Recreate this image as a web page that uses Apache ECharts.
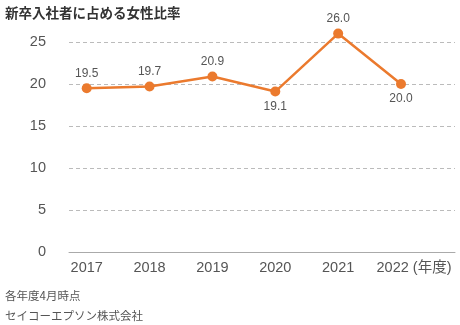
<!DOCTYPE html>
<html>
<head>
<meta charset="utf-8">
<script src="https://cdn.jsdelivr.net/npm/echarts@6/dist/echarts.min.js"></script>
<style>
  html, body { margin: 0; padding: 0; background: #fff; }
  #chart { width: 460px; height: 325px; }
</style>
</head>
<body>
<div id="chart"></div>
<script>
// 新卒入社者に占める女性比率（%）
const years = ['2017', '2018', '2019', '2020', '2021', '2022'];
const femaleRatio = [19.5, 19.7, 20.9, 19.1, 26.0, 20.0];
const labelBelow = [false, false, false, true, false, true];
const yTicks = [0, 5, 10, 15, 20, 25];

const titleText = '新卒入社者に占める女性比率';
const noteLines = ['各年度4月時点', 'セイコーエプソン株式会社'];
const unitText = '(年度)';

const NUM_FONT = '"Liberation Sans", "Noto Sans CJK JP", sans-serif';
const JP_FONT = '"Noto Sans CJK JP", "Liberation Sans", sans-serif';
const ORANGE = '#EB7A2E';

const chart = echarts.init(document.getElementById('chart'), null, { renderer: 'canvas' });

const yMin = yTicks[0];
const yMax = yTicks[yTicks.length - 1];
const yStep = yTicks[1] - yTicks[0];

// geometry of the value scale: baseline and the top guide line
const baseBottom = 73;     // distance of the 0 line from the bottom edge
const guideTop = 42;       // y of the top guide line
const pxPerUnit = (325 - baseBottom - guideTop) / (yMax - yMin);
// the line's own value range leaves headroom above the top guide
const dataMax = 28;
const dataTop = 325 - baseBottom - (dataMax - yMin) * pxPerUnit;

chart.setOption({
  animation: false,
  backgroundColor: '#fff',
  title: [
    { text: titleText, left: 0, top: 1,
      textStyle: { fontFamily: JP_FONT, fontSize: 13.5, fontWeight: 'bold', color: '#333' } },
    { text: noteLines[0], left: 0, top: 285,
      textStyle: { fontFamily: JP_FONT, fontSize: 11.5, fontWeight: 'normal', color: '#555' } },
    { text: noteLines[1], left: 0, top: 305,
      textStyle: { fontFamily: JP_FONT, fontSize: 11.5, fontWeight: 'normal', color: '#555' } }
  ],
  grid: [
    // plotting area for the line
    { left: 86.7, right: 59, top: dataTop, bottom: baseBottom },
    // frame carrying the y labels, dashed guides and baseline
    { left: 69, right: 5, top: guideTop, bottom: baseBottom }
  ],
  xAxis: [
    {
      type: 'category', gridIndex: 0, data: years, boundaryGap: false,
      axisLine: { show: false }, axisTick: { show: false }, splitLine: { show: false },
      axisLabel: {
        interval: 0, margin: 9, color: '#555', fontFamily: NUM_FONT, fontSize: 14.5,
        formatter: function (v, i) {
          return i === years.length - 1 ? '{last|' + v + ' ' + unitText + '}' : v;
        },
        rich: {
          last: { padding: [0, 0, 0, 26], color: '#555', fontFamily: NUM_FONT, fontSize: 14.5 }
        }
      }
    },
    {
      type: 'value', gridIndex: 1, min: 0, max: 1,
      axisLine: { show: true, lineStyle: { color: '#aaa', width: 1 } },
      axisTick: { show: false }, axisLabel: { show: false }, splitLine: { show: false }
    }
  ],
  yAxis: [
    {
      type: 'value', gridIndex: 0, min: yMin, max: dataMax,
      axisLine: { show: false }, axisTick: { show: false },
      axisLabel: { show: false }, splitLine: { show: false }
    },
    {
      type: 'value', gridIndex: 1, min: yMin, max: yMax, interval: yStep,
      axisLine: { show: false }, axisTick: { show: false },
      axisLabel: { margin: 23, color: '#555', fontFamily: NUM_FONT, fontSize: 14.5 },
      splitLine: {
        show: true,
        lineStyle: { color: '#bbb', type: [4, 3], width: 1 }
      }
    }
  ],
  series: [{
    type: 'line',
    xAxisIndex: 0, yAxisIndex: 0,
    data: femaleRatio.map(function (v, i) {
      return {
        value: v,
        label: { position: labelBelow[i] ? 'bottom' : 'top' }
      };
    }),
    lineStyle: { color: ORANGE, width: 2.5 },
    itemStyle: { color: ORANGE },
    symbol: 'circle', symbolSize: 10,
    label: {
      show: true, distance: 4, color: '#555', fontFamily: NUM_FONT, fontSize: 12,
      formatter: function (p) { return p.value.toFixed(1); }
    },
    z: 5
  }]
});
</script>
</body>
</html>
